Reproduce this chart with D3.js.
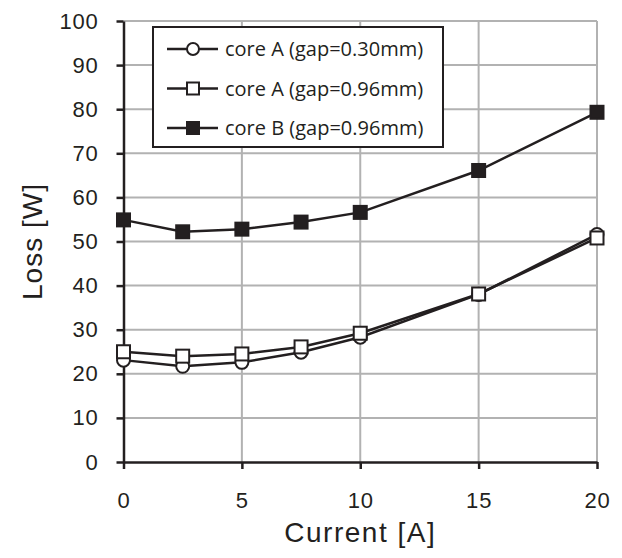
<!DOCTYPE html>
<head>
  <meta charset="utf-8">
  <script src="https://d3js.org/d3.v7.min.js"></script>
</head>
<body>
  <div id="chart"></div>

  <script>
    // data
    var currents = [0, 2.5, 5, 7.5, 10, 15, 20];
    var coreA030 = [23.1, 21.7, 22.6, 24.9, 28.3, 38.0, 51.6];
    var coreA096 = [25.0, 24.0, 24.5, 26.1, 29.2, 38.1, 50.8];
    var coreB096 = [54.9, 52.2, 52.8, 54.4, 56.6, 66.1, 79.3];
    var seriesNames = ['core A (gap=0.30mm)', 'core A (gap=0.96mm)', 'core B (gap=0.96mm)'];
    var xTicks = [0, 5, 10, 15, 20];
    var yTicks = [0, 10, 20, 30, 40, 50, 60, 70, 80, 90, 100];

    var width = 622, height = 558;
    var margin = {left: 123.5, right: 25, top: 21, bottom: 96};

    var series = [
      {name: seriesNames[0], values: coreA030, marker: 'circle', fill: '#fff'},
      {name: seriesNames[1], values: coreA096, marker: 'square', fill: '#fff'},
      {name: seriesNames[2], values: coreB096, marker: 'square', fill: '#231f20'}
    ];

    var svg = d3.select('#chart')
      .append('svg')
        .attr('width', width)
        .attr('height', height);

    var x = d3.scaleLinear().domain([0, 20]).range([margin.left, width - margin.right]);
    var y = d3.scaleLinear().domain([0, 100]).range([height - margin.bottom, margin.top]);

    // grid
    svg.append('g')
      .selectAll('line')
      .data(yTicks.filter(d => d > 0))
      .join('line')
        .attr('x1', x(0)).attr('x2', x(20))
        .attr('y1', d => y(d)).attr('y2', d => y(d))
        .attr('stroke', '#b2b2b2').attr('stroke-width', 2);
    svg.append('g')
      .selectAll('line')
      .data(xTicks.filter(d => d > 0))
      .join('line')
        .attr('x1', d => x(d)).attr('x2', d => x(d))
        .attr('y1', y(0)).attr('y2', y(100))
        .attr('stroke', '#b2b2b2').attr('stroke-width', 2);

    // axes
    var xAxis = d3.axisBottom(x).tickValues(xTicks).tickSize(7).tickPadding(23).tickSizeOuter(0);
    var yAxis = d3.axisLeft(y).tickValues(yTicks).tickSize(7).tickPadding(18).tickSizeOuter(0);

    var gx = svg.append('g')
      .attr('transform', 'translate(0,' + y(0) + ')')
      .call(xAxis);
    var gy = svg.append('g')
      .attr('transform', 'translate(' + x(0) + ',0)')
      .call(yAxis);

    [gx, gy].forEach(function(g) {
      g.selectAll('path, line').attr('stroke', '#231f20').attr('stroke-width', 2.5);
      g.selectAll('text')
        .attr('fill', '#231f20')
        .style('font-family', '"Liberation Sans", Arial, sans-serif')
        .style('font-size', '22px')
        .style('letter-spacing', '0.8px');
    });

    svg.append('text')
      .attr('x', x(10)).attr('y', 542)
      .attr('text-anchor', 'middle')
      .attr('fill', '#231f20')
      .style('font-family', '"Liberation Sans", Arial, sans-serif')
      .style('font-size', '28px')
      .style('letter-spacing', '1.5px')
      .text('Current [A]');

    svg.append('text')
      .attr('transform', 'translate(42,' + y(50) + ') rotate(-90)')
      .attr('text-anchor', 'middle')
      .attr('fill', '#231f20')
      .style('font-family', '"Liberation Sans", Arial, sans-serif')
      .style('font-size', '28px')
      .style('letter-spacing', '1px')
      .text('Loss [W]');

    var line = d3.line()
      .x((d, i) => x(currents[i]))
      .y(d => y(d));

    function drawMarker(g, type, fill, size) {
      if (type == 'circle') {
        g.append('circle').attr('r', size / 2);
      } else {
        g.append('rect')
          .attr('x', -size / 2).attr('y', -size / 2)
          .attr('width', size).attr('height', size);
      }
      g.selectAll('circle, rect')
        .attr('fill', fill)
        .attr('stroke', '#231f20')
        .attr('stroke-width', 2);
    }

    series.forEach(function(s) {
      svg.append('path')
        .datum(s.values)
        .attr('d', line)
        .attr('fill', 'none')
        .attr('stroke', '#231f20')
        .attr('stroke-width', 2.5);

      svg.append('g')
        .selectAll('g')
        .data(s.values)
        .join('g')
          .attr('transform', (d, i) => 'translate(' + x(currents[i]) + ',' + y(d) + ')')
          .each(function() { drawMarker(d3.select(this), s.marker, s.fill, 13); });
    });

    // legend
    var legend = svg.append('g').attr('transform', 'translate(153,27)');
    legend.append('rect')
      .attr('width', 290).attr('height', 120)
      .attr('fill', '#fff')
      .attr('stroke', '#231f20').attr('stroke-width', 2);

    var item = legend.selectAll('.item')
      .data(series)
      .join('g')
        .attr('class', 'item')
        .attr('transform', (d, i) => 'translate(0,' + (22 + i * 39.5) + ')');
    item.append('line')
      .attr('x1', 14).attr('x2', 65)
      .attr('stroke', '#231f20').attr('stroke-width', 2.5);
    item.append('g')
      .attr('transform', 'translate(40,0)')
      .each(function(d) { drawMarker(d3.select(this), d.marker, d.fill, 12); });
    item.append('text')
      .attr('x', 72).attr('dy', '0.35em')
      .attr('fill', '#231f20')
      .style('font-family', '"Open Sans", sans-serif')
      .style('font-size', '20px')
      .text(d => d.name);
  </script>
</body>

<style>
  body {
    margin: 0;
    background-color: #fff;
  }
</style>
